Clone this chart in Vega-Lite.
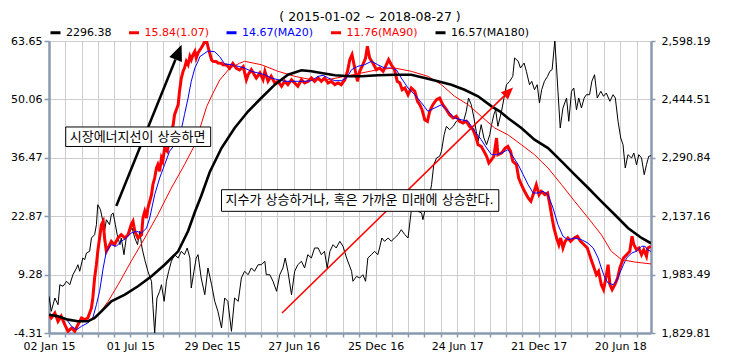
{
  "$schema": "https://vega.github.io/schema/vega-lite/v6.json",
  "width": 602,
  "height": 292,
  "autosize": "none",
  "padding": {"left": 49, "top": 41, "right": 101, "bottom": 29},
  "background": "#ffffff",
  "title": {"text": "( 2015-01-02 ~ 2018-08-27 )", "font": "DejaVu Sans", "fontSize": 12.5, "fontWeight": "normal", "color": "#000000", "anchor": "middle", "dx": 20, "offset": 3},
  "config": {
    "view": {"stroke": null},
    "axis": {"domainColor": "#8a9ab0", "domainWidth": 2.5, "tickColor": "#8a9ab0", "tickWidth": 1.5, "labelFont": "DejaVu Sans", "labelFontSize": 11, "labelColor": "#000000", "gridColor": "#cdcdcd", "gridWidth": 1, "title": null}
  },
  "datasets": {
    "index": [
      {"d":"2015-01-02","v":1926.4},{"d":"2015-01-07","v":1886.9},{"d":"2015-01-15","v":1921.9},{"d":"2015-01-22","v":1904.3},{"d":"2015-01-26","v":1956.9},{"d":"2015-02-02","v":1952.7},{"d":"2015-02-10","v":1965.9},{"d":"2015-02-17","v":1956.9},{"d":"2015-02-24","v":1983.2},{"d":"2015-03-04","v":2000.9},{"d":"2015-03-07","v":2009.5},{"d":"2015-03-11","v":1992.2},{"d":"2015-03-18","v":2027.2},{"d":"2015-03-22","v":2022.7},{"d":"2015-03-26","v":2040.3},{"d":"2015-04-02","v":2044.8},{"d":"2015-04-06","v":2079.8},{"d":"2015-04-13","v":2088.5},{"d":"2015-04-17","v":2114.8},{"d":"2015-04-20","v":2167.4},{"d":"2015-04-26","v":2154.3},{"d":"2015-05-02","v":2119.3},{"d":"2015-05-05","v":2097.4},{"d":"2015-05-09","v":2128},{"d":"2015-05-16","v":2114.8},{"d":"2015-05-20","v":2141.1},{"d":"2015-05-24","v":2145.6},{"d":"2015-05-29","v":2114.8},{"d":"2015-06-02","v":2088.5},{"d":"2015-06-08","v":2062.2},{"d":"2015-06-11","v":2079.8},{"d":"2015-06-17","v":2035.9},{"d":"2015-06-22","v":2079.8},{"d":"2015-06-30","v":2097.4},{"d":"2015-07-05","v":2106.1},{"d":"2015-07-11","v":2079.8},{"d":"2015-07-17","v":2062.2},{"d":"2015-07-22","v":2097.4},{"d":"2015-07-27","v":2053.5},{"d":"2015-08-02","v":2022.7},{"d":"2015-08-09","v":1992.2},{"d":"2015-08-17","v":1965.9},{"d":"2015-08-20","v":1904.3},{"d":"2015-08-24","v":1829.81},{"d":"2015-08-29","v":1921.9},{"d":"2015-09-04","v":1939.5},{"d":"2015-09-08","v":1956.9},{"d":"2015-09-14","v":1913.2},{"d":"2015-09-19","v":1965.9},{"d":"2015-09-24","v":1992.2},{"d":"2015-09-30","v":2018.5},{"d":"2015-10-07","v":2035.9},{"d":"2015-10-15","v":2027.2},{"d":"2015-10-22","v":2044.8},{"d":"2015-10-29","v":2035.9},{"d":"2015-11-04","v":2053.5},{"d":"2015-11-10","v":2027.2},{"d":"2015-11-13","v":1948.2},{"d":"2015-11-19","v":1992.2},{"d":"2015-11-24","v":2027.2},{"d":"2015-11-28","v":2035.9},{"d":"2015-12-05","v":1974.5},{"d":"2015-12-13","v":1930.6},{"d":"2015-12-20","v":2000.9},{"d":"2015-12-28","v":1956.9},{"d":"2016-01-04","v":1913.2},{"d":"2016-01-11","v":1886.9},{"d":"2016-01-19","v":1843},{"d":"2016-01-26","v":1921.9},{"d":"2016-02-02","v":1913.2},{"d":"2016-02-10","v":1834.3},{"d":"2016-02-17","v":1921.9},{"d":"2016-02-25","v":1913.2},{"d":"2016-03-03","v":1974.5},{"d":"2016-03-10","v":1992.2},{"d":"2016-03-18","v":1983.2},{"d":"2016-03-25","v":2000.9},{"d":"2016-04-01","v":1992.2},{"d":"2016-04-09","v":2009.5},{"d":"2016-04-16","v":2009.5},{"d":"2016-04-24","v":2018.5},{"d":"2016-04-27","v":1983.2},{"d":"2016-05-05","v":1983.2},{"d":"2016-05-12","v":1965.9},{"d":"2016-05-20","v":1939.5},{"d":"2016-05-27","v":1983.2},{"d":"2016-06-03","v":2000.9},{"d":"2016-06-08","v":2027.2},{"d":"2016-06-14","v":1992.2},{"d":"2016-06-22","v":1930.6},{"d":"2016-06-29","v":1992.2},{"d":"2016-07-06","v":2009.5},{"d":"2016-07-14","v":2018.5},{"d":"2016-07-21","v":2000.9},{"d":"2016-07-28","v":2035.9},{"d":"2016-08-05","v":2027.2},{"d":"2016-08-12","v":2053.5},{"d":"2016-08-20","v":2053.5},{"d":"2016-08-27","v":2035.9},{"d":"2016-09-03","v":2044.8},{"d":"2016-09-09","v":2000.9},{"d":"2016-09-15","v":2044.8},{"d":"2016-09-22","v":2062.2},{"d":"2016-09-29","v":2053.5},{"d":"2016-10-07","v":2071.1},{"d":"2016-10-14","v":2058},{"d":"2016-10-22","v":2027.2},{"d":"2016-11-02","v":1992.2},{"d":"2016-11-05","v":1965.9},{"d":"2016-11-13","v":1979},{"d":"2016-11-20","v":1974.5},{"d":"2016-11-27","v":1983.2},{"d":"2016-12-03","v":1965.9},{"d":"2016-12-08","v":2027.2},{"d":"2016-12-16","v":2035.9},{"d":"2016-12-23","v":2044.8},{"d":"2016-12-30","v":2035.9},{"d":"2017-01-03","v":2053.5},{"d":"2017-01-08","v":2079.8},{"d":"2017-01-14","v":2071.1},{"d":"2017-01-22","v":2079.8},{"d":"2017-01-29","v":2071.1},{"d":"2017-02-05","v":2079.8},{"d":"2017-02-13","v":2088.5},{"d":"2017-02-20","v":2101.7},{"d":"2017-02-28","v":2088.5},{"d":"2017-03-07","v":2079.8},{"d":"2017-03-14","v":2150},{"d":"2017-03-22","v":2167.4},{"d":"2017-03-29","v":2150},{"d":"2017-04-06","v":2145.6},{"d":"2017-04-09","v":2128},{"d":"2017-04-13","v":2150},{"d":"2017-04-20","v":2167.4},{"d":"2017-04-28","v":2220},{"d":"2017-05-03","v":2272.7},{"d":"2017-05-09","v":2290.3},{"d":"2017-05-16","v":2294.8},{"d":"2017-05-20","v":2308},{"d":"2017-05-26","v":2351.6},{"d":"2017-05-31","v":2373.7},{"d":"2017-06-07","v":2364.8},{"d":"2017-06-15","v":2373.7},{"d":"2017-06-22","v":2386.9},{"d":"2017-06-29","v":2391.1},{"d":"2017-07-07","v":2382.4},{"d":"2017-07-14","v":2413.2},{"d":"2017-07-19","v":2448.2},{"d":"2017-07-25","v":2430.6},{"d":"2017-07-31","v":2395.6},{"d":"2017-08-05","v":2360.5},{"d":"2017-08-09","v":2334.2},{"d":"2017-08-16","v":2378},{"d":"2017-08-22","v":2343},{"d":"2017-08-28","v":2325.3},{"d":"2017-09-04","v":2351.6},{"d":"2017-09-08","v":2378},{"d":"2017-09-13","v":2404.2},{"d":"2017-09-17","v":2417.4},{"d":"2017-09-22","v":2373.7},{"d":"2017-09-30","v":2413.2},{"d":"2017-10-11","v":2483.2},{"d":"2017-10-18","v":2492},{"d":"2017-10-25","v":2505.3},{"d":"2017-10-29","v":2553.5},{"d":"2017-11-06","v":2544.8},{"d":"2017-11-11","v":2527.1},{"d":"2017-11-19","v":2540.3},{"d":"2017-11-24","v":2518.5},{"d":"2017-12-01","v":2483.2},{"d":"2017-12-06","v":2492},{"d":"2017-12-12","v":2470},{"d":"2017-12-18","v":2483.2},{"d":"2017-12-23","v":2435},{"d":"2017-12-28","v":2470},{"d":"2018-01-03","v":2492},{"d":"2018-01-10","v":2505.3},{"d":"2018-01-15","v":2518.5},{"d":"2018-01-20","v":2522.7},{"d":"2018-01-26","v":2598.19},{"d":"2018-01-29","v":2544.8},{"d":"2018-02-02","v":2465.8},{"d":"2018-02-07","v":2369.2},{"d":"2018-02-13","v":2421.9},{"d":"2018-02-21","v":2448.2},{"d":"2018-02-26","v":2386.9},{"d":"2018-03-04","v":2465.8},{"d":"2018-03-09","v":2474.5},{"d":"2018-03-15","v":2417.4},{"d":"2018-03-20","v":2448.2},{"d":"2018-03-26","v":2421.9},{"d":"2018-04-01","v":2448.2},{"d":"2018-04-06","v":2456.9},{"d":"2018-04-13","v":2456.9},{"d":"2018-04-18","v":2492},{"d":"2018-04-24","v":2509.5},{"d":"2018-04-30","v":2448.2},{"d":"2018-05-08","v":2465.8},{"d":"2018-05-14","v":2452.7},{"d":"2018-05-20","v":2461.3},{"d":"2018-05-28","v":2439.5},{"d":"2018-06-04","v":2456.9},{"d":"2018-06-09","v":2448.2},{"d":"2018-06-15","v":2386.9},{"d":"2018-06-21","v":2343},{"d":"2018-06-26","v":2325.3},{"d":"2018-07-01","v":2264},{"d":"2018-07-07","v":2299},{"d":"2018-07-15","v":2290.3},{"d":"2018-07-20","v":2303.5},{"d":"2018-07-26","v":2272.7},{"d":"2018-07-31","v":2299},{"d":"2018-08-06","v":2290.3},{"d":"2018-08-12","v":2246.4},{"d":"2018-08-17","v":2272.7},{"d":"2018-08-22","v":2294.8},{"d":"2018-08-27","v":2296.38}
    ],
    "energy": [
      {"d":"2015-01-02","v":-0.05},{"d":"2015-01-07","v":-0.82},{"d":"2015-01-15","v":0.34},{"d":"2015-01-22","v":-1.59},{"d":"2015-01-29","v":-0.42},{"d":"2015-02-06","v":-2.38},{"d":"2015-02-13","v":-3.91},{"d":"2015-02-21","v":-3.15},{"d":"2015-02-28","v":-3.91},{"d":"2015-03-07","v":-2.38},{"d":"2015-03-15","v":-0.82},{"d":"2015-03-22","v":-1.2},{"d":"2015-03-29","v":-0.82},{"d":"2015-04-06","v":1.51},{"d":"2015-04-09","v":3.84},{"d":"2015-04-13","v":8.49},{"d":"2015-04-17","v":11.59},{"d":"2015-04-20","v":14.7},{"d":"2015-04-24","v":17.8},{"d":"2015-04-28","v":20.9},{"d":"2015-05-02","v":21.7},{"d":"2015-05-05","v":17.8},{"d":"2015-05-09","v":14.7},{"d":"2015-05-13","v":15.47},{"d":"2015-05-20","v":17.03},{"d":"2015-05-27","v":16.24},{"d":"2015-06-04","v":17.8},{"d":"2015-06-11","v":18.57},{"d":"2015-06-19","v":17.8},{"d":"2015-06-26","v":18.57},{"d":"2015-07-03","v":20.9},{"d":"2015-07-07","v":21.69},{"d":"2015-07-11","v":19.36},{"d":"2015-07-18","v":17.8},{"d":"2015-07-26","v":18.57},{"d":"2015-07-29","v":22.45},{"d":"2015-08-02","v":24.0},{"d":"2015-08-06","v":22.45},{"d":"2015-08-09","v":24.78},{"d":"2015-08-17","v":27.88},{"d":"2015-08-20","v":30.2},{"d":"2015-08-24","v":31.76},{"d":"2015-08-28","v":34.09},{"d":"2015-08-31","v":34.86},{"d":"2015-09-04","v":33.32},{"d":"2015-09-08","v":36.42},{"d":"2015-09-11","v":35.65},{"d":"2015-09-15","v":38.74},{"d":"2015-09-21","v":37.98},{"d":"2015-09-26","v":41.07},{"d":"2015-10-04","v":44.17},{"d":"2015-10-07","v":46.5},{"d":"2015-10-15","v":48.82},{"d":"2015-10-18","v":51.94},{"d":"2015-10-22","v":55.04},{"d":"2015-10-26","v":56.6},{"d":"2015-10-29","v":57.36},{"d":"2015-11-02","v":58.93},{"d":"2015-11-06","v":58.13},{"d":"2015-11-10","v":60.09},{"d":"2015-11-13","v":59.3},{"d":"2015-11-17","v":60.46},{"d":"2015-11-21","v":61.25},{"d":"2015-11-24","v":59.69},{"d":"2015-11-28","v":60.86},{"d":"2015-12-02","v":61.55},{"d":"2015-12-05","v":62.02},{"d":"2015-12-09","v":62.72},{"d":"2015-12-13","v":63.58},{"d":"2015-12-17","v":63.65},{"d":"2015-12-20","v":62.32},{"d":"2015-12-28","v":59.23},{"d":"2015-12-31","v":58.93},{"d":"2016-01-08","v":58.83},{"d":"2016-01-11","v":58.53},{"d":"2016-01-19","v":58.46},{"d":"2016-01-22","v":58.13},{"d":"2016-01-30","v":58.07},{"d":"2016-02-06","v":57.3},{"d":"2016-02-13","v":58.46},{"d":"2016-02-21","v":57.3},{"d":"2016-02-28","v":56.9},{"d":"2016-03-07","v":57.67},{"d":"2016-03-14","v":54.64},{"d":"2016-03-18","v":55.8},{"d":"2016-03-25","v":56.97},{"d":"2016-04-05","v":55.04},{"d":"2016-04-13","v":56.2},{"d":"2016-04-20","v":54.64},{"d":"2016-04-24","v":56.6},{"d":"2016-05-01","v":54.27},{"d":"2016-05-08","v":55.43},{"d":"2016-05-16","v":53.87},{"d":"2016-05-23","v":54.27},{"d":"2016-05-31","v":53.11},{"d":"2016-06-07","v":54.27},{"d":"2016-06-14","v":53.48},{"d":"2016-06-22","v":54.64},{"d":"2016-06-29","v":53.87},{"d":"2016-07-06","v":53.11},{"d":"2016-07-14","v":54.64},{"d":"2016-07-21","v":53.87},{"d":"2016-07-29","v":54.27},{"d":"2016-08-05","v":55.04},{"d":"2016-08-12","v":54.27},{"d":"2016-08-20","v":55.04},{"d":"2016-08-27","v":54.27},{"d":"2016-09-03","v":55.04},{"d":"2016-09-11","v":53.87},{"d":"2016-09-18","v":54.27},{"d":"2016-09-26","v":53.48},{"d":"2016-10-03","v":53.87},{"d":"2016-10-10","v":53.48},{"d":"2016-10-18","v":54.64},{"d":"2016-10-24","v":56.6},{"d":"2016-10-29","v":59.3},{"d":"2016-11-03","v":60.46},{"d":"2016-11-09","v":57.36},{"d":"2016-11-15","v":54.27},{"d":"2016-11-20","v":56.6},{"d":"2016-11-27","v":58.13},{"d":"2016-12-03","v":59.69},{"d":"2016-12-07","v":62.42},{"d":"2016-12-12","v":59.69},{"d":"2016-12-19","v":58.53},{"d":"2016-12-27","v":56.97},{"d":"2017-01-03","v":57.36},{"d":"2017-01-11","v":56.6},{"d":"2017-01-18","v":58.13},{"d":"2017-01-23","v":59.3},{"d":"2017-01-29","v":58.13},{"d":"2017-02-05","v":56.97},{"d":"2017-02-11","v":54.27},{"d":"2017-02-17","v":53.87},{"d":"2017-02-22","v":52.31},{"d":"2017-02-28","v":52.71},{"d":"2017-03-07","v":51.15},{"d":"2017-03-14","v":52.71},{"d":"2017-03-22","v":51.94},{"d":"2017-03-28","v":49.62},{"d":"2017-04-02","v":48.82},{"d":"2017-04-07","v":47.66},{"d":"2017-04-13","v":45.33},{"d":"2017-04-19","v":44.96},{"d":"2017-04-24","v":47.29},{"d":"2017-05-01","v":48.82},{"d":"2017-05-09","v":49.99},{"d":"2017-05-16","v":50.38},{"d":"2017-05-23","v":48.82},{"d":"2017-05-31","v":47.66},{"d":"2017-06-07","v":46.5},{"d":"2017-06-15","v":45.73},{"d":"2017-06-22","v":46.12},{"d":"2017-06-29","v":44.96},{"d":"2017-07-07","v":44.56},{"d":"2017-07-14","v":44.96},{"d":"2017-07-21","v":43.8},{"d":"2017-07-29","v":43.0},{"d":"2017-08-05","v":41.07},{"d":"2017-08-09","v":39.51},{"d":"2017-08-16","v":39.14},{"d":"2017-08-22","v":37.98},{"d":"2017-08-28","v":36.82},{"d":"2017-09-02","v":35.26},{"d":"2017-09-08","v":36.02},{"d":"2017-09-13","v":36.82},{"d":"2017-09-19","v":41.07},{"d":"2017-09-22","v":37.2},{"d":"2017-09-30","v":37.58},{"d":"2017-10-08","v":38.74},{"d":"2017-10-14","v":39.14},{"d":"2017-10-20","v":37.98},{"d":"2017-10-25","v":35.65},{"d":"2017-11-02","v":34.86},{"d":"2017-11-07","v":31.76},{"d":"2017-11-13","v":30.2},{"d":"2017-11-20","v":28.67},{"d":"2017-11-28","v":27.11},{"d":"2017-12-04","v":26.34},{"d":"2017-12-09","v":27.88},{"d":"2017-12-16","v":30.2},{"d":"2017-12-22","v":27.88},{"d":"2017-12-27","v":28.67},{"d":"2018-01-04","v":27.88},{"d":"2018-01-10","v":28.27},{"d":"2018-01-15","v":25.55},{"d":"2018-01-20","v":22.45},{"d":"2018-01-24","v":20.13},{"d":"2018-01-30","v":17.8},{"d":"2018-02-04","v":16.24},{"d":"2018-02-08","v":17.8},{"d":"2018-02-13","v":15.47},{"d":"2018-02-18","v":17.03},{"d":"2018-02-24","v":17.8},{"d":"2018-03-02","v":17.03},{"d":"2018-03-10","v":17.8},{"d":"2018-03-17","v":18.2},{"d":"2018-03-24","v":17.03},{"d":"2018-04-01","v":16.24},{"d":"2018-04-08","v":15.47},{"d":"2018-04-16","v":12.93},{"d":"2018-04-23","v":10.82},{"d":"2018-04-28","v":9.26},{"d":"2018-05-03","v":10.05},{"d":"2018-05-09","v":6.93},{"d":"2018-05-14","v":5.77},{"d":"2018-05-19","v":8.49},{"d":"2018-05-24","v":11.59},{"d":"2018-05-28","v":6.93},{"d":"2018-06-02","v":5.77},{"d":"2018-06-08","v":6.93},{"d":"2018-06-14","v":8.49},{"d":"2018-06-19","v":10.82},{"d":"2018-06-27","v":13.14},{"d":"2018-07-04","v":13.91},{"d":"2018-07-11","v":14.7},{"d":"2018-07-16","v":18.2},{"d":"2018-07-20","v":16.24},{"d":"2018-07-26","v":15.08},{"d":"2018-07-31","v":15.47},{"d":"2018-08-06","v":13.91},{"d":"2018-08-11","v":15.08},{"d":"2018-08-17","v":13.54},{"d":"2018-08-20","v":15.47},{"d":"2018-08-27","v":15.84}
    ],
    "ma20": [
      {"d":"2015-02-10","v":-1.2},{"d":"2015-02-21","v":-2.75},{"d":"2015-03-04","v":-3.54},{"d":"2015-03-15","v":-2.75},{"d":"2015-03-29","v":-1.98},{"d":"2015-04-09","v":-0.82},{"d":"2015-04-17","v":2.28},{"d":"2015-04-24","v":5.4},{"d":"2015-05-02","v":10.82},{"d":"2015-05-09","v":14.7},{"d":"2015-05-20","v":16.24},{"d":"2015-05-31","v":15.87},{"d":"2015-06-11","v":17.03},{"d":"2015-06-22","v":17.8},{"d":"2015-07-03","v":18.96},{"d":"2015-07-15","v":19.36},{"d":"2015-07-26","v":18.96},{"d":"2015-08-06","v":20.13},{"d":"2015-08-13","v":22.45},{"d":"2015-08-24","v":27.88},{"d":"2015-09-04","v":31.76},{"d":"2015-09-15","v":34.86},{"d":"2015-09-26","v":37.98},{"d":"2015-10-07","v":39.51},{"d":"2015-10-18","v":41.07},{"d":"2015-10-29","v":46.5},{"d":"2015-11-06","v":50.38},{"d":"2015-11-13","v":54.27},{"d":"2015-11-21","v":57.36},{"d":"2015-11-28","v":58.93},{"d":"2015-12-02","v":60.0},{"d":"2015-12-20","v":61.32},{"d":"2016-01-04","v":61.16},{"d":"2016-01-15","v":60.0},{"d":"2016-01-26","v":58.3},{"d":"2016-02-10","v":58.13},{"d":"2016-02-25","v":57.76},{"d":"2016-03-10","v":57.36},{"d":"2016-03-25","v":56.6},{"d":"2016-04-09","v":56.2},{"d":"2016-04-24","v":55.8},{"d":"2016-05-08","v":55.04},{"d":"2016-05-23","v":54.64},{"d":"2016-06-07","v":54.27},{"d":"2016-06-22","v":54.27},{"d":"2016-07-06","v":54.27},{"d":"2016-07-21","v":54.27},{"d":"2016-08-05","v":54.41},{"d":"2016-08-20","v":55.43},{"d":"2016-08-31","v":55.66},{"d":"2016-09-11","v":55.04},{"d":"2016-09-26","v":54.41},{"d":"2016-10-10","v":54.41},{"d":"2016-10-22","v":55.04},{"d":"2016-11-02","v":56.97},{"d":"2016-11-16","v":57.76},{"d":"2016-12-01","v":58.13},{"d":"2016-12-16","v":58.93},{"d":"2016-12-30","v":58.13},{"d":"2017-01-14","v":57.36},{"d":"2017-01-29","v":57.36},{"d":"2017-02-09","v":56.97},{"d":"2017-02-20","v":55.04},{"d":"2017-03-07","v":52.71},{"d":"2017-03-22","v":51.15},{"d":"2017-04-06","v":49.22},{"d":"2017-04-20","v":47.29},{"d":"2017-05-05","v":48.06},{"d":"2017-05-20","v":48.82},{"d":"2017-06-04","v":47.29},{"d":"2017-06-18","v":45.73},{"d":"2017-07-03","v":45.33},{"d":"2017-07-18","v":44.96},{"d":"2017-08-02","v":42.63},{"d":"2017-08-16","v":40.68},{"d":"2017-08-28","v":38.74},{"d":"2017-09-08","v":37.19},{"d":"2017-09-19","v":37.19},{"d":"2017-09-30","v":37.58},{"d":"2017-10-14","v":38.35},{"d":"2017-10-25","v":36.82},{"d":"2017-11-06","v":34.86},{"d":"2017-11-17","v":32.53},{"d":"2017-11-28","v":30.2},{"d":"2017-12-09","v":28.27},{"d":"2017-12-20","v":28.27},{"d":"2017-12-31","v":28.67},{"d":"2018-01-11","v":27.88},{"d":"2018-01-22","v":24.78},{"d":"2018-02-02","v":20.9},{"d":"2018-02-13","v":18.2},{"d":"2018-02-24","v":17.41},{"d":"2018-03-11","v":17.8},{"d":"2018-03-26","v":17.41},{"d":"2018-04-09","v":16.64},{"d":"2018-04-21","v":15.47},{"d":"2018-05-02","v":13.14},{"d":"2018-05-09","v":10.82},{"d":"2018-05-17","v":8.49},{"d":"2018-05-24","v":7.33},{"d":"2018-06-04","v":6.93},{"d":"2018-06-11","v":7.72},{"d":"2018-06-19","v":9.65},{"d":"2018-06-27","v":11.59},{"d":"2018-07-04","v":13.14},{"d":"2018-07-15","v":14.31},{"d":"2018-07-26","v":14.7},{"d":"2018-08-06","v":15.87},{"d":"2018-08-14","v":15.87},{"d":"2018-08-19","v":15.08},{"d":"2018-08-27","v":14.67}
    ],
    "ma90": [
      {"d":"2015-04-13","v":-0.8},{"d":"2015-04-28","v":0.9},{"d":"2015-05-13","v":3.07},{"d":"2015-06-04","v":6.93},{"d":"2015-07-03","v":12.38},{"d":"2015-08-02","v":17.8},{"d":"2015-08-31","v":23.22},{"d":"2015-09-30","v":29.44},{"d":"2015-10-29","v":34.86},{"d":"2015-11-21","v":39.51},{"d":"2015-12-17","v":48.36},{"d":"2015-12-31","v":51.48},{"d":"2016-01-15","v":54.57},{"d":"2016-02-06","v":57.3},{"d":"2016-02-28","v":58.46},{"d":"2016-03-10","v":58.93},{"d":"2016-04-16","v":58.13},{"d":"2016-05-23","v":56.6},{"d":"2016-06-29","v":55.43},{"d":"2016-08-05","v":54.64},{"d":"2016-09-11","v":54.64},{"d":"2016-10-18","v":55.43},{"d":"2016-11-24","v":56.2},{"d":"2016-12-30","v":56.97},{"d":"2017-02-05","v":57.36},{"d":"2017-03-14","v":56.6},{"d":"2017-04-20","v":55.43},{"d":"2017-05-20","v":53.48},{"d":"2017-06-18","v":50.78},{"d":"2017-07-18","v":48.82},{"d":"2017-08-16","v":46.12},{"d":"2017-09-15","v":43.4},{"d":"2017-10-14","v":41.84},{"d":"2017-11-13","v":39.51},{"d":"2017-12-12","v":37.19},{"d":"2018-01-11","v":34.09},{"d":"2018-02-10","v":30.2},{"d":"2018-03-11","v":26.34},{"d":"2018-04-10","v":22.45},{"d":"2018-05-09","v":18.57},{"d":"2018-05-31","v":14.7},{"d":"2018-06-23","v":12.75},{"d":"2018-07-22","v":12.21},{"d":"2018-08-27","v":11.76}
    ],
    "ma180": [
      {"d":"2015-01-02","v":-0.05},{"d":"2015-01-22","v":-0.42},{"d":"2015-02-13","v":-1.2},{"d":"2015-03-07","v":-1.59},{"d":"2015-03-29","v":-1.59},{"d":"2015-04-13","v":-0.82},{"d":"2015-04-28","v":0.74},{"d":"2015-05-20","v":3.07},{"d":"2015-06-19","v":4.6},{"d":"2015-07-18","v":6.56},{"d":"2015-08-17","v":8.89},{"d":"2015-09-15","v":11.59},{"d":"2015-10-15","v":14.7},{"d":"2015-11-06","v":19.43},{"d":"2015-11-21","v":23.85},{"d":"2015-12-05","v":27.57},{"d":"2015-12-24","v":33.16},{"d":"2016-01-19","v":38.74},{"d":"2016-02-17","v":43.4},{"d":"2016-03-18","v":47.29},{"d":"2016-04-16","v":50.38},{"d":"2016-05-16","v":53.48},{"d":"2016-06-14","v":55.8},{"d":"2016-07-14","v":56.83},{"d":"2016-08-05","v":56.6},{"d":"2016-08-27","v":56.2},{"d":"2016-09-26","v":55.67},{"d":"2016-10-29","v":55.43},{"d":"2016-11-24","v":55.43},{"d":"2016-12-30","v":55.67},{"d":"2017-02-05","v":55.8},{"d":"2017-03-14","v":55.8},{"d":"2017-04-13","v":55.04},{"d":"2017-05-12","v":54.27},{"d":"2017-06-11","v":53.48},{"d":"2017-07-10","v":52.31},{"d":"2017-08-09","v":50.78},{"d":"2017-09-08","v":48.45},{"d":"2017-09-26","v":47.29},{"d":"2017-10-14","v":45.73},{"d":"2017-11-13","v":43.4},{"d":"2017-12-12","v":40.68},{"d":"2018-01-11","v":38.74},{"d":"2018-02-10","v":35.65},{"d":"2018-03-11","v":32.53},{"d":"2018-04-10","v":29.44},{"d":"2018-05-09","v":26.34},{"d":"2018-06-08","v":23.22},{"d":"2018-07-07","v":20.13},{"d":"2018-08-06","v":17.8},{"d":"2018-08-27","v":16.57}
    ]
  },
  "layer": [
    {
      "data": {"name": "index"},
      "mark": {"type": "line", "strokeWidth": 1, "clip": true},
      "encoding": {
        "x": {"field": "d", "type": "temporal", "scale": {"type": "utc", "domain": ["2015-01-02", "2018-08-27"]},
          "axis": {"values": [1420156800000,1423267200000,1426377600000,1429488000000,1432598400000,1435708800000,1438819200000,1441929600000,1445040000000,1448150400000,1451347200000,1454457600000,1457568000000,1460678400000,1463788800000,1466985600000,1470096000000,1473206400000,1476316800000,1479427200000,1482624000000,1485734400000,1488844800000,1491955200000,1495065600000,1498262400000,1501372800000,1504483200000,1507593600000,1510704000000,1513814400000,1516924800000,1520035200000,1523145600000,1526256000000,1529452800000,1532563200000],
            "labelExpr": "indexof(['02 Jan 15','01 Jul 15','29 Dec 15','27 Jun 16','25 Dec 16','24 Jun 17','21 Dec 17','20 Jun 18'], utcFormat(datum.value, '%d %b %y')) >= 0 ? utcFormat(datum.value, '%d %b %y') : ''",
            "grid": true, "tickSize": 4, "labelPadding": 3, "labelOverlap": false, "labelFlush": false, "title": null}},
        "y": {"field": "v", "type": "quantitative", "scale": {"domain": [1829.81, 2598.19], "nice": false, "zero": false},
          "axis": {"orient": "right", "values": [1829.81, 1983.49, 2137.16, 2290.84, 2444.51, 2598.19], "format": ",.2f", "grid": false, "tickSize": 4, "labelPadding": 6, "title": null}},
        "color": {"datum": "2296.38", "type": "nominal",
          "scale": {"domain": ["2296.38", "15.84(1.07)", "14.67(MA20)", "11.76(MA90)", "16.57(MA180)"], "range": ["#000000", "#ff0000", "#0000ff", "#ff0000", "#000000"]},
          "legend": {"orient": "top", "direction": "horizontal", "title": null, "symbolType": "stroke", "symbolStrokeWidth": 3, "symbolSize": 100, "labelFont": "DejaVu Sans", "labelFontSize": 11, "columnPadding": 10.5, "labelOffset": 4, "offset": 2, "padding": 0,
            "encode": {"labels": {"update": {"fill": {"signal": "scale('color', datum.value)"}}}}}}
      }
    },
    {
      "encoding": {
        "x": {"field": "d", "type": "temporal", "scale": {"type": "utc", "domain": ["2015-01-02", "2018-08-27"]},
          "axis": {"values": [1420156800000,1423267200000,1426377600000,1429488000000,1432598400000,1435708800000,1438819200000,1441929600000,1445040000000,1448150400000,1451347200000,1454457600000,1457568000000,1460678400000,1463788800000,1466985600000,1470096000000,1473206400000,1476316800000,1479427200000,1482624000000,1485734400000,1488844800000,1491955200000,1495065600000,1498262400000,1501372800000,1504483200000,1507593600000,1510704000000,1513814400000,1516924800000,1520035200000,1523145600000,1526256000000,1529452800000,1532563200000],
            "labelExpr": "indexof(['02 Jan 15','01 Jul 15','29 Dec 15','27 Jun 16','25 Dec 16','24 Jun 17','21 Dec 17','20 Jun 18'], utcFormat(datum.value, '%d %b %y')) >= 0 ? utcFormat(datum.value, '%d %b %y') : ''",
            "grid": true, "tickSize": 4, "labelPadding": 3, "labelOverlap": false, "labelFlush": false, "title": null}},
        "y": {"field": "v", "type": "quantitative", "scale": {"domain": [-4.31, 63.65], "nice": false, "zero": false},
          "axis": {"orient": "left", "values": [-4.31, 9.28, 22.87, 36.47, 50.06, 63.65], "labelExpr": "replace(format(datum.value, '.2f'), '\u2212', '-')", "grid": true, "tickSize": 5, "labelPadding": 2, "title": null}}
      },
      "layer": [
        {"data": {"name": "energy"}, "mark": {"type": "line", "strokeWidth": 3, "clip": true}, "encoding": {"color": {"datum": "15.84(1.07)", "type": "nominal"}}},
        {"data": {"name": "ma20"}, "mark": {"type": "line", "strokeWidth": 1, "clip": true}, "encoding": {"color": {"datum": "14.67(MA20)", "type": "nominal"}}},
        {"data": {"name": "ma90"}, "mark": {"type": "line", "strokeWidth": 1, "clip": true}, "encoding": {"color": {"datum": "11.76(MA90)", "type": "nominal"}}},
        {"data": {"name": "ma180"}, "mark": {"type": "line", "strokeWidth": 2.6, "clip": true}, "encoding": {"color": {"datum": "16.57(MA180)", "type": "nominal"}}},
        {"data": {"values": [{"d": "2015-05-31", "v": 25.25, "d2": "2015-10-09", "v2": 59.35}]}, "mark": {"type": "rule", "color": "#000000", "strokeWidth": 2.5}, "encoding": {"x2": {"field": "d2"}, "y2": {"field": "v2"}}},
        {"data": {"values": [{"d": "2015-10-16", "v": 61.07}]}, "mark": {"type": "point", "shape": "M0,-1L0.85,1L-0.85,1Z", "filled": true, "color": "#000000", "opacity": 1, "size": 256, "angle": 22}, "encoding": {}},
        {"data": {"values": [{"d": "2016-06-01", "v": 0.34, "d2": "2017-10-06", "v2": 50.87}]}, "mark": {"type": "rule", "color": "#ff0000", "strokeWidth": 1.5}, "encoding": {"x2": {"field": "d2"}, "y2": {"field": "v2"}}},
        {"data": {"values": [{"d": "2017-10-16", "v": 51.85}]}, "mark": {"type": "point", "shape": "M0,-1L0.85,1L-0.85,1Z", "filled": true, "color": "#ff0000", "opacity": 1, "size": 144, "angle": 46}, "encoding": {}},
        {"data": {"values": [{"d": "2015-02-08", "v": 43.64, "d2": "2015-12-26", "v2": 39.1}, {"d": "2016-01-19", "v": 29.04, "d2": "2017-09-24", "v2": 24.01}]}, "mark": {"type": "rect", "fill": "#ffffff", "stroke": "#000000", "strokeWidth": 1}, "encoding": {"x2": {"field": "d2"}, "y2": {"field": "v2"}}},
        {"data": {"values": [{"d": "2015-02-08", "v": 41.37, "t": "시장에너지선이 상승하면"}, {"d": "2016-01-19", "v": 26.53, "t": "지수가 상승하거나, 혹은 가까운 미래에 상승한다."}]}, "mark": {"type": "text", "align": "left", "baseline": "middle", "dx": 4, "font": "DejaVu Sans, Noto Sans CJK KR", "fontSize": 13, "color": "#000000"}, "encoding": {"text": {"field": "t"}}}
      ]
    }
  ],
  "resolve": {"scale": {"y": "independent"}}
}
